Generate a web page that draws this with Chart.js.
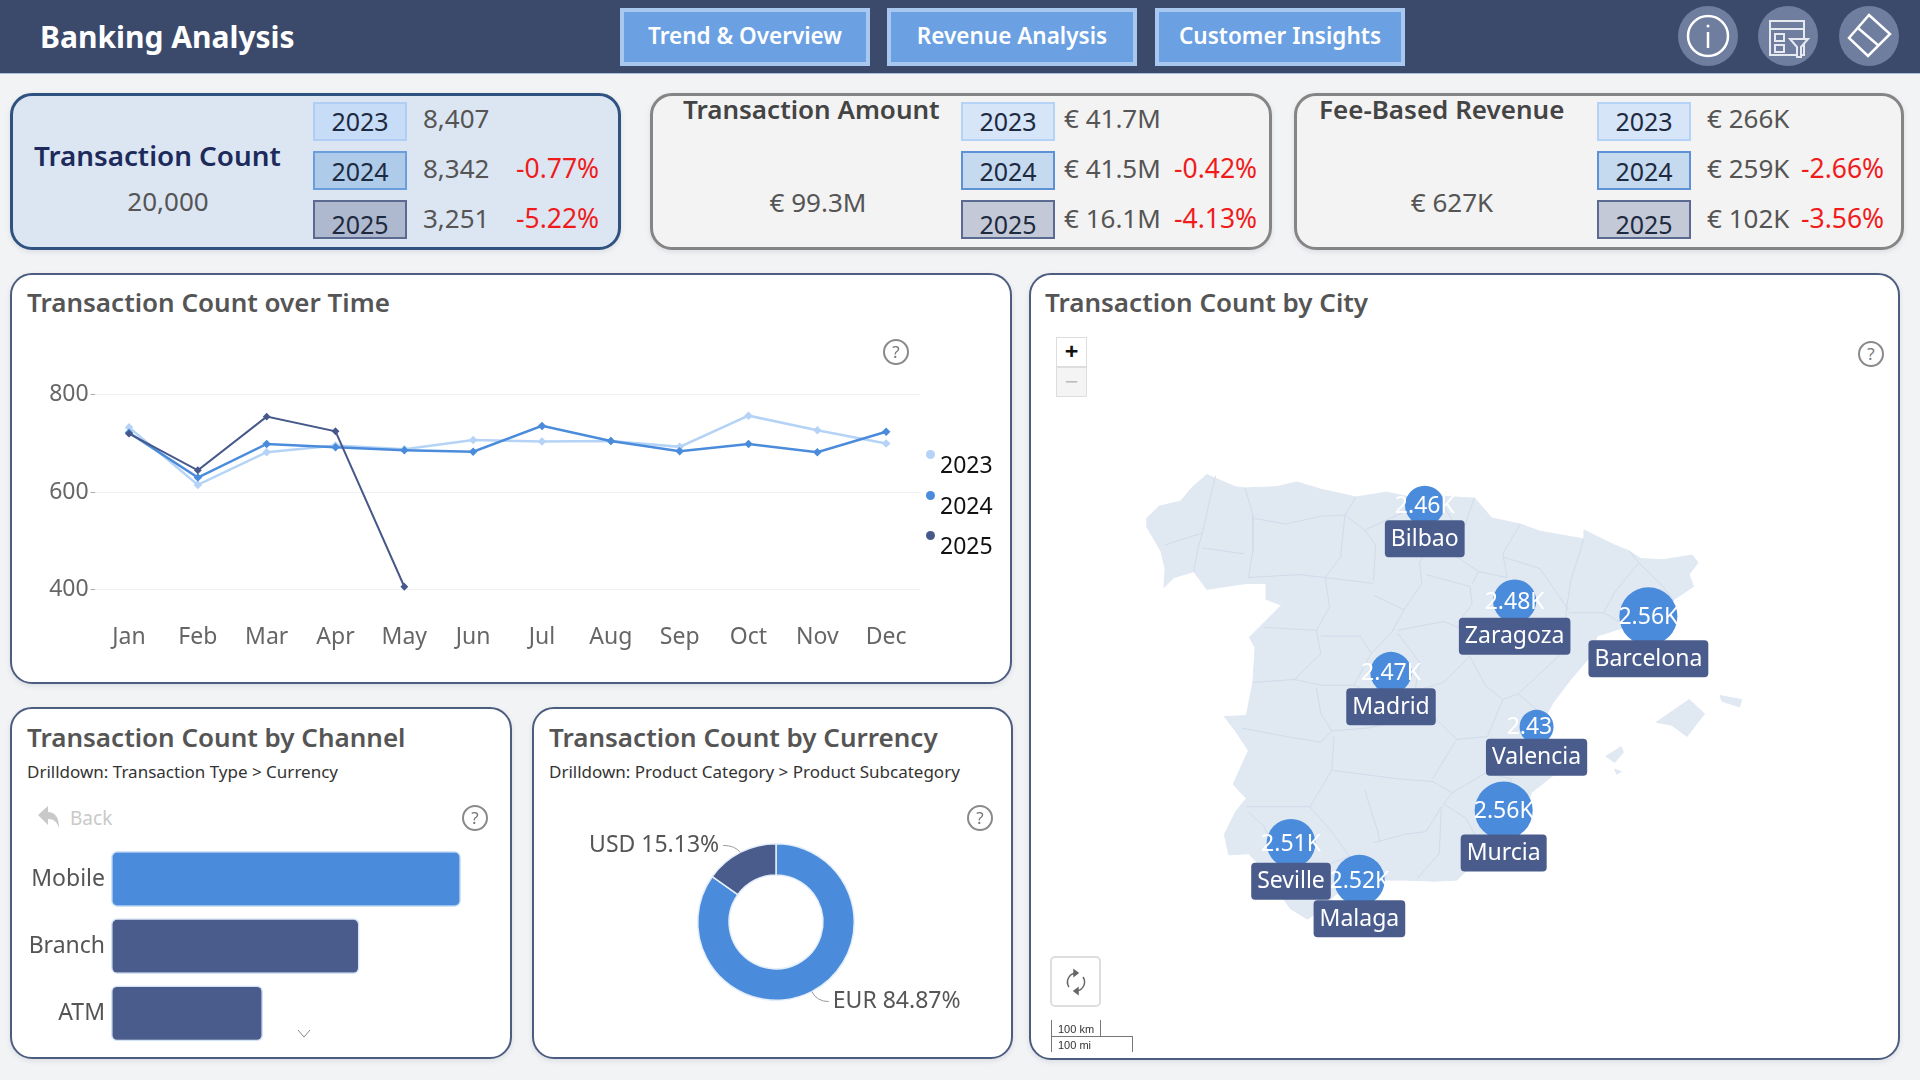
<!DOCTYPE html>
<html>
<head>
<meta charset="utf-8">
<title>Banking Analysis</title>
<script src="https://cdn.jsdelivr.net/npm/chart.js@4/dist/chart.umd.js"></script>
<style>
html, body { margin: 0; padding: 0; width: 1920px; height: 1080px; overflow: hidden; background: #f2f3f5; font-family: "Noto Sans", sans-serif; }
#topbar { position: absolute; left: 0; top: 0; width: 1920px; height: 73px; background: #3b4a6b; border-bottom: 1px solid #a9bfe0; }
.navbtn { position: absolute; top: 8px; width: 242px; height: 50px; background: #6ba1e3; border: 4px solid #a9c8f0; color: #fff; font-size: 22.5px; font-weight: 600; line-height: 48px; text-align: center; }
.iconbtn { position: absolute; top: 6px; width: 60px; height: 60px; border-radius: 50%; background: #6f7d9f; }
.card { position: absolute; box-sizing: border-box; border-radius: 22px; background: #fff; border: 2px solid #4d5d80; box-shadow: 0 2px 5px rgba(90,100,120,.15); }
.kpi { background: #f3f3f3; border: 3px solid #858585; top: 93px; height: 157px; }
.kpi.active { background: #dce6f2; border-color: #2f5280; }
.chip { position: absolute; box-sizing: border-box; width: 94px; height: 39px; border: 2px solid; color: #1e2a40; font-size: 25px; text-align: center; }
.t { position: absolute; white-space: nowrap; transform: translateY(-50%); line-height: 1.2; }
.kpititle { font-size: 26px; font-weight: 600; color: #444; }
.kpival { font-size: 26px; color: #555; }
.pct { font-size: 26.5px; color: #f01c1c; }
.cardtitle { font-size: 26px; font-weight: 600; color: #555; }
.sub { font-size: 17px; color: #333; }
.help { position: absolute; box-sizing: border-box; width: 26px; height: 26px; border: 2px solid #8a8a8a; border-radius: 50%; color: #777; font-size: 17px; line-height: 22px; text-align: center; }
canvas { position: absolute; }
.legdot { position: absolute; width: 9px; height: 9px; border-radius: 50%; }
.zoombtn { position: absolute; box-sizing: border-box; left: 1056px; width: 31px; border: 1px solid #ddd; text-align: center; }
svg { position: absolute; }
</style>
</head>
<body>
<div id="topbar"></div>
<canvas id="lineChart"></canvas>
<canvas id="channelChart"></canvas>
<canvas id="currencyChart"></canvas>
<canvas id="cityMap"></canvas>

<script>
/* chart data */
var months = ["Jan", "Feb", "Mar", "Apr", "May", "Jun", "Jul", "Aug", "Sep", "Oct", "Nov", "Dec"];
var count2023 = [733, 615, 682, 696, 688, 707, 704, 705, 693, 757, 727, 700];
var count2024 = [722, 630, 699, 692, 686, 683, 736, 705, 684, 699, 682, 724];
var count2025 = [720, 645, 755, 725, 406];
var countTicks = [400, 600, 800];

var channels = ["Mobile", "Branch", "ATM"];
var channelCounts = [7000, 4970, 3040];

var currencies = ["EUR", "USD"];
var currencyShares = [84.87, 15.13];

var cities = ["Bilbao", "Zaragoza", "Barcelona", "Madrid", "Valencia", "Murcia", "Seville", "Malaga"];
var cityLon = [-2.93, -0.88, 2.17, -3.70, -0.38, -1.13, -5.98, -4.42];
var cityLat = [43.26, 41.65, 41.39, 40.42, 39.47, 37.98, 37.39, 36.72];
var cityCounts = [2460, 2480, 2560, 2470, 2430, 2560, 2510, 2520];

var kpiYears = ["2023", "2024", "2025"];
var countTotal = "20,000";
var countByYear = ["8,407", "8,342", "3,251"];
var countChange = ["", "-0.77%", "-5.22%"];
var amountTotal = "€ 99.3M";
var amountByYear = ["€ 41.7M", "€ 41.5M", "€ 16.1M"];
var amountChange = ["", "-0.42%", "-4.13%"];
var feeTotal = "€ 627K";
var feeByYear = ["€ 266K", "€ 259K", "€ 102K"];
var feeChange = ["", "-2.66%", "-3.56%"];

/* map shapes, [lon, lat] */
var mainland = [[-9.27,43.05],[-8.98,43.25],[-8.5,43.33],[-8.25,43.55],[-7.9,43.77],[-7.25,43.57],[-7.03,43.55],[-6.3,43.57],[-5.85,43.65],[-5.3,43.53],[-4.5,43.4],[-3.8,43.48],[-3.2,43.39],[-3.0,43.37],[-2.7,43.42],[-1.79,43.38],[-1.4,43.05],[-0.75,42.95],[-0.3,42.83],[0.7,42.7],[0.7,42.85],[1.4,42.6],[1.73,42.5],[2.0,42.37],[2.5,42.35],[3.17,42.43],[3.3,42.3],[3.1,42.1],[3.2,41.9],[2.8,41.7],[2.25,41.43],[1.7,41.22],[1.0,41.05],[0.85,40.7],[0.4,40.3],[0,39.9],[-0.33,39.45],[-0.2,39.0],[0.23,38.75],[-0.1,38.55],[-0.5,38.3],[-0.65,37.95],[-0.72,37.62],[-1.3,37.55],[-1.65,37.35],[-1.9,36.95],[-2.2,36.72],[-2.7,36.7],[-3.4,36.72],[-4.4,36.72],[-4.9,36.5],[-5.35,36.15],[-5.6,36.0],[-6.0,36.2],[-6.3,36.55],[-6.4,36.75],[-6.95,37.2],[-7.4,37.18],[-7.5,37.55],[-7.25,37.95],[-7.0,38.2],[-7.3,38.45],[-7.1,38.8],[-6.95,39.05],[-7.25,39.4],[-7.5,39.65],[-7.0,39.67],[-6.85,40.25],[-6.8,40.85],[-6.93,41.03],[-6.2,41.58],[-6.55,41.68],[-6.55,41.95],[-7.0,41.95],[-7.9,41.85],[-8.2,42.15],[-8.65,42.05],[-8.88,41.88],[-8.85,42.2],[-8.95,42.5],[-9.27,42.9]];
var mallorca = [[2.35,39.55],[3.1,39.95],[3.45,39.7],[3.05,39.3],[2.7,39.5]];
var menorca = [[3.8,40.02],[4.3,39.95],[4.25,39.82],[3.85,39.92]];
var ibiza = [[1.2,38.95],[1.55,39.12],[1.6,39.02],[1.4,38.84]];
var formentera = [[1.4,38.72],[1.55,38.68],[1.45,38.63]];

var provinceLines = [
  [[-7.7,43.75],[-7.85,43.3],[-8.0,42.8],[-8.85,42.6]], [[-8.0,42.55],[-7.05,42.45]], [[-8.0,42.8],[-8.1,42.55],[-8.2,42.15]],
  [[-7.03,43.55],[-6.85,43.1],[-6.85,42.5],[-6.95,42.05]], [[-6.85,43.05],[-6.1,42.95],[-5.3,43.08],[-4.75,43.1],[-4.5,43.4]],
  [[-4.75,43.1],[-4.3,42.85],[-3.85,43.0],[-3.4,43.15],[-3.15,43.38]], [[-4.75,43.1],[-4.85,42.4],[-5.2,42.05]],
  [[-6.95,42.05],[-5.8,42.1],[-5.2,42.05]], [[-6.6,41.2],[-5.4,41.15]], [[-5.2,42.05],[-5.1,41.55],[-5.4,41.15]],
  [[-4.3,42.85],[-4.05,42.6],[-4.1,42.0]], [[-5.2,42.05],[-4.1,41.95]], [[-4.1,41.75],[-3.4,41.5],[-3.0,41.95],[-3.05,42.3],[-2.9,42.5],[-3.1,42.85],[-3.3,43.2]],
  [[-5.4,41.15],[-5.3,40.75],[-5.9,40.3]], [[-6.85,40.25],[-5.9,40.3]], [[-5.3,41.05],[-4.4,41.05],[-4.15,40.75],[-3.7,41.1],[-3.4,41.5]],
  [[-5.9,40.3],[-5.3,40.2],[-4.55,40.2],[-4.15,40.75]], [[-4.55,40.2],[-3.9,40.0],[-3.15,40.1],[-3.05,40.6],[-3.55,41.1]],
  [[-7.1,39.45],[-6.1,39.3],[-5.3,39.2],[-5.05,39.4]], [[-5.4,40.15],[-5.3,39.7],[-5.05,39.4]], [[-5.05,39.4],[-4.2,39.45],[-3.4,39.6],[-3.0,39.85]],
  [[-3.15,40.1],[-2.5,40.25],[-1.9,40.7],[-1.55,40.2]], [[-3.55,41.15],[-2.5,41.3],[-2.0,41.15],[-1.6,40.95]], [[-2.9,42.1],[-1.9,41.9],[-1.85,41.6],[-2.15,41.3]],
  [[-3.05,42.6],[-2.4,42.5],[-1.7,42.15],[-1.85,41.95]], [[-3.1,42.85],[-2.4,42.65],[-2.2,42.9],[-2.55,43.3]], [[-2.4,42.65],[-2.05,42.85],[-1.8,43.38]],
  [[-0.75,42.95],[-1.15,42.45],[-1.05,42.05],[-1.7,42.15]], [[0.7,42.7],[0.4,42.0],[0.3,41.5],[0.25,40.8]], [[-1.15,42.4],[-0.3,42.2],[0.35,41.5]],
  [[-1.6,40.95],[-0.9,41.0],[-0.2,41.1],[0.25,41.0]], [[-1.55,40.2],[-1.15,39.95],[-0.8,40.05],[0.15,40.72]],
  [[1.73,42.5],[1.95,42.3],[2.5,41.9],[2.75,41.65]], [[0.35,41.45],[1.15,41.45],[1.7,41.22]], [[1.95,42.3],[1.4,41.8],[1.15,41.45]],
  [[-0.8,40.05],[-0.35,39.75],[-0.2,39.7]], [[-1.15,39.95],[-1.5,39.3],[-2.2,39.25],[-3.0,39.85]], [[-1.5,39.0],[-0.95,38.95],[-0.95,38.6]],
  [[-0.95,38.9],[-0.35,38.8],[0.1,38.85]], [[-0.95,38.55],[-1.55,38.65],[-2.3,38.3],[-2.5,38.1]], [[-0.95,38.55],[-1.15,38.1],[-0.75,37.85]],
  [[-2.5,38.1],[-2.0,37.85],[-1.65,37.35]], [[-2.2,39.25],[-2.75,38.55]], [[-7.0,38.05],[-6.2,38.05],[-5.55,38.05],[-5.05,38.7],[-3.55,38.55],[-2.75,38.5],[-2.3,38.3]],
  [[-5.05,38.7],[-5.0,39.3]], [[-6.95,37.95],[-6.6,37.7],[-6.3,37.2],[-6.35,36.75]], [[-5.55,38.05],[-5.05,37.6],[-4.65,37.15]],
  [[-6.2,36.9],[-5.6,36.95],[-5.15,37.0],[-4.65,37.15]], [[-5.6,36.95],[-5.35,36.5],[-5.3,36.3]], [[-4.3,38.35],[-4.0,37.6],[-3.95,37.4]],
  [[-4.65,37.15],[-4.1,37.1],[-3.8,36.75]], [[-4.1,37.4],[-3.4,37.55],[-2.9,37.6],[-2.55,38.05]], [[-2.55,38.05],[-2.6,37.2],[-3.1,36.75]]
];

/* small dom helpers */
function el(tag, cls, css, html) {
    var d = document.createElement(tag);
    d.className = cls || "";
    d.style.cssText = css || "";
    if (html !== undefined) d.innerHTML = html;
    document.body.appendChild(d);
    return d;
}

function txt(s, x, y, cls, css) {
    return el("div", "t " + cls, "left:" + x + "px;top:" + y + "px;" + (css || ""), s);
}

function help(cx, cy) {
    el("div", "help", "left:" + (cx - 13) + "px;top:" + (cy - 13) + "px;z-index:3", "?");
}

/* cards go behind the canvases */
function card(x, y, w, h, cls) {
    var c = el("div", "card " + (cls || ""), "left:" + x + "px;width:" + w + "px;" + (cls ? "" : "top:" + y + "px;height:" + h + "px;"));
    document.body.insertBefore(c, document.getElementById("lineChart"));
}

el("div", "", "position:absolute;left:40px;top:36px;transform:translateY(-50%);color:#fff;font-size:30px;font-weight:700;white-space:nowrap", "Banking Analysis");
el("div", "navbtn", "left:620px", "Trend &amp; Overview");
el("div", "navbtn", "left:887px", "Revenue Analysis");
el("div", "navbtn", "left:1155px", "Customer Insights");

el("div", "iconbtn", "left:1678px");
el("div", "iconbtn", "left:1758px");
el("div", "iconbtn", "left:1839px");
document.body.insertAdjacentHTML("beforeend",
  '<svg style="left:1678px;top:6px" width="60" height="60" fill="none" stroke="#fff" stroke-width="2.5"><circle cx="30" cy="30" r="20"/><line x1="30" y1="26" x2="30" y2="42"/><circle cx="30" cy="20" r="1.5" fill="#fff" stroke="none"/></svg>' +
  '<svg style="left:1758px;top:6px" width="60" height="60" fill="none" stroke="#e6e9f0" stroke-width="2"><rect x="12" y="15" width="34" height="34"/><line x1="12" y1="23" x2="46" y2="23"/><rect x="17" y="28" width="9" height="7"/><rect x="17" y="39" width="9" height="7"/><path d="M32 33h18l-7 8v10h-4V41z" fill="#6f7d9f"/></svg>' +
  '<svg style="left:1839px;top:6px" width="60" height="60" fill="none" stroke="#fff" stroke-width="2.5"><path d="M30 9L51 28 29 50 10 32z"/><line x1="19" y1="22" x2="40" y2="40"/></svg>' +
  '<svg style="left:36px;top:804px" width="26" height="26" fill="#c9c9c9"><path d="M2 11L12 2v6c7 0 11 5 11 16-2-6-5-9-11-9v6z"/></svg>' +
  '<svg style="left:296px;top:1029px" width="16" height="10" fill="none" stroke="#888" stroke-width="1"><path d="M2 1l6 7 6-7"/></svg>' +
  '<svg style="left:1062px;top:968px" width="28" height="28" fill="none" stroke="#666" stroke-width="1.5"><path d="M7 19A9 9 0 0 1 14 5"/><path d="M21 9A9 9 0 0 1 14 23"/><path d="M12 2l4 3-4 3z" fill="#666"/><path d="M16 20l-4 3 4 3z" fill="#666"/></svg>');

/* KPI cards */
function kpiRows(chipX, valX, pctX, vals, changes, fills) {
    var tops = [102, 151, 200];
    var chipLine = [34, 36, 44];
    var valY = [119, 169, 219];
    for (var i = 0; i < 3; i++) {
        el("div", "chip", "left:" + chipX + "px;top:" + tops[i] + "px;line-height:" + chipLine[i] + "px;background:" + fills[i][0] + ";border-color:" + fills[i][1], kpiYears[i]);
        txt(vals[i], valX, valY[i], "kpival");
        if (changes[i]) txt(changes[i], pctX, valY[i], "pct");
    }
}
card(10, 93, 611, 157, "kpi active");
card(650, 93, 622, 157, "kpi");
card(1294, 93, 610, 157, "kpi");

var activeFills = [["#c7dcf7", "#b0cdf5"], ["#aecbea", "#6b9fdc"], ["#aeb9cf", "#5a6a90"]];
var plainFills = [["#d6e5f8", "#b5d2f7"], ["#c5d9ef", "#5d93d6"], ["#c3c9d6", "#5a6a90"]];

txt("Transaction Count", 34, 156, "kpititle", "color:#1d2a5c;font-size:27.8px");
txt(countTotal, 168, 202, "kpival", "transform:translate(-50%,-50%)");
kpiRows(313, 423, 516, countByYear, countChange, activeFills);

txt("Transaction Amount", 683, 110, "kpititle");
txt(amountTotal, 818, 203, "kpival", "transform:translate(-50%,-50%)");
kpiRows(961, 1064, 1174, amountByYear, amountChange, plainFills);

txt("Fee-Based Revenue", 1319, 110, "kpititle");
txt(feeTotal, 1452, 203, "kpival", "transform:translate(-50%,-50%)");
kpiRows(1597, 1707, 1801, feeByYear, feeChange, plainFills);

/* visual cards */
card(10, 273, 1002, 411);
card(10, 707, 502, 352);
card(532, 707, 481, 352);
card(1029, 273, 871, 787);

txt("Transaction Count over Time", 27, 303, "cardtitle");
txt("Transaction Count by City", 1045, 303, "cardtitle");
txt("Transaction Count by Channel", 27, 738, "cardtitle");
txt("Drilldown: Transaction Type &gt; Currency", 27, 772, "sub");
txt("Transaction Count by Currency", 549, 738, "cardtitle");
txt("Drilldown: Product Category &gt; Product Subcategory", 549, 772, "sub");
txt("Back", 70, 818, "", "font-size:19px;color:#c9c9c9");
help(896, 352); help(475, 818); help(980, 818); help(1871, 354);

/* line chart legend */
var lineColors = ["#b5d3f6", "#4a8cdb", "#47598a"];
var legendY = [455, 496, 536];
for (var i = 0; i < 3; i++) {
    el("div", "legdot", "left:926px;top:" + (legendY[i] - 5) + "px;background:" + lineColors[i] + ";z-index:3");
    txt(kpiYears[i], 940, legendY[i] + 10, "", "font-size:23px;color:#111;z-index:3");
}

/* map controls */
el("div", "zoombtn", "top:337px;height:30px;background:#fff;font-size:24px;line-height:26px;font-weight:700;color:#111;z-index:3", "+");
el("div", "zoombtn", "top:367px;height:30px;background:#f4f4f4;font-size:24px;line-height:26px;color:#bbb;z-index:3", "−");
el("div", "", "position:absolute;box-sizing:border-box;left:1050px;top:956px;width:51px;height:51px;border:2px solid #dedede;border-radius:5px;z-index:1;background:#fff");
el("div", "", "position:absolute;box-sizing:border-box;left:1051px;top:1020px;width:50px;height:17px;border:1px solid #777;border-top:0;font:11px 'Liberation Sans';color:#333;padding:3px 0 0 6px;z-index:3", "100 km");
el("div", "", "position:absolute;box-sizing:border-box;left:1051px;top:1036px;width:82px;height:16px;border:1px solid #777;border-bottom:0;font:11px 'Liberation Sans';color:#333;padding:2px 0 0 6px;z-index:3", "100 mi");

/* put svgs above the canvases */
document.querySelectorAll("svg").forEach(function(s) { s.style.zIndex = 3; });

Chart.defaults.animation = false;
Chart.defaults.responsive = false;
Chart.defaults.devicePixelRatio = 1;
Chart.defaults.font.family = '"Noto Sans", sans-serif';
Chart.defaults.plugins.legend.display = false;
Chart.defaults.plugins.tooltip.enabled = false;
Chart.defaults.layout.autoPadding = false;

function placeCanvas(id, x, y, w, h) {
    var c = document.getElementById(id);
    c.width = w;
    c.height = h;
    c.style.left = x + "px";
    c.style.top = y + "px";
    c.style.zIndex = 2;
    return c.getContext("2d");
}

/* Transaction Count over Time */
function lineSet(label, values, color, width) {
    return {
        label: label,
        data: values,
        borderColor: color,
        backgroundColor: color,
        borderWidth: width,
        pointRadius: 2.5,
        pointStyle: "rectRot",
        tension: 0
    };
}

new Chart(placeCanvas("lineChart", 14, 332.5, 960, 340), {
    type: "line",
    data: {
        labels: months,
        datasets: [
            lineSet("2025", count2025, lineColors[2], 2),
            lineSet("2024", count2024, lineColors[1], 2.5),
            lineSet("2023", count2023, lineColors[0], 2.5)
        ]
    },
    options: {
        layout: { padding: { top: 42.2, right: 53.4 } },
        scales: {
            x: {
                offset: true,
                grid: { display: false },
                border: { display: false },
                afterFit: function(s) { s.height = 63.8; },
                ticks: { color: "#666", font: { size: 23 }, padding: 6, maxRotation: 0, autoSkip: false }
            },
            y: {
                min: 360,
                max: 840,
                afterBuildTicks: function(s) { s.ticks = countTicks.map(function(v) { return { value: v }; }); },
                afterFit: function(s) { s.width = 80.6; },
                grid: { color: "#eef0f3", tickColor: "#aaa", tickLength: 4 },
                border: { display: false },
                ticks: { color: "#666", font: { size: 23 }, padding: 2 }
            }
        }
    }
});

/* Transaction Count by Channel */
new Chart(placeCanvas("channelChart", 14, 816, 470, 260), {
    type: "bar",
    data: {
        labels: channels,
        datasets: [{
            data: channelCounts,
            backgroundColor: ["#4a8cdb", "#4a5c8c", "#4a5c8c"],
            borderColor: "#d3e3f7",
            borderWidth: 1.5,
            borderRadius: 6,
            borderSkipped: false,
            barPercentage: 0.83,
            categoryPercentage: 1
        }]
    },
    options: {
        indexAxis: "y",
        layout: { padding: { top: 29.4, bottom: 29, right: 3 } },
        scales: {
            x: { display: false, min: 0, max: 7400 },
            y: {
                afterFit: function(s) { s.width = 97; },
                grid: { display: false, tickLength: 0 },
                border: { display: false },
                ticks: { color: "#555", font: { size: 23 }, padding: 6 }
            }
        }
    }
});

/* Transaction Count by Currency, labels with leader lines */
var donutLabels = {
    id: "donutLabels",
    afterDatasetsDraw: function(chart) {
        var ctx = chart.ctx;
        var arcs = chart.getDatasetMeta(0).data;
        ctx.save();
        ctx.font = '23px "Noto Sans"';
        ctx.fillStyle = "#555";
        ctx.strokeStyle = "#9a9a9a";
        ctx.lineWidth = 1;
        ctx.textBaseline = "middle";
        arcs.forEach(function(a, i) {
            var mid = (a.startAngle + a.endAngle) / 2;
            var px = a.x + Math.cos(mid) * a.outerRadius;
            var py = a.y + Math.sin(mid) * a.outerRadius;
            var dir = px > a.x ? 1 : -1;
            var vdir = py > a.y ? 1 : -1;
            var ex = px + dir * 17, ey = py + vdir * (dir > 0 ? 10 : 7);
            ctx.beginPath();
            ctx.moveTo(px, py);
            ctx.quadraticCurveTo(px + dir * 5, ey, ex, ey);
            ctx.stroke();
            ctx.textAlign = dir > 0 ? "left" : "right";
            ctx.fillText(currencies[i] + " " + currencyShares[i].toFixed(2) + "%", ex + dir * 4, ey);
        });
        ctx.restore();
    }
};

new Chart(placeCanvas("currencyChart", 544, 822, 464, 200), {
    type: "doughnut",
    plugins: [donutLabels],
    data: {
        labels: currencies,
        datasets: [{
            data: currencyShares,
            backgroundColor: ["#4a8cdb", "#4a5c8c"],
            borderColor: "#e4eefb",
            borderWidth: 1.5
        }]
    },
    options: {
        cutout: "60%",
        layout: { padding: { top: 21, bottom: 21 } }
    }
});

/* Transaction Count by City, drawn on lon / mercator axes */
function mercator(lat) {
    return Math.log(Math.tan(Math.PI / 4 + lat * Math.PI / 360)) * 180 / Math.PI;
}

function toPoints(shape) {
    return shape.map(function(p) { return { x: p[0], y: mercator(p[1]) }; });
}

function bubbleRadius(v) {
    return 17 + (v - 2430) * 0.0923;
}

function landSet(shape) {
    return {
        type: "scatter",
        data: toPoints(shape.concat([shape[0]])),
        showLine: true,
        fill: "shape",
        backgroundColor: "#e0e8f2",
        borderColor: "#e0e8f2",
        borderWidth: 1,
        pointRadius: 0,
        order: 3
    };
}

function borderSet(line) {
    return {
        type: "scatter",
        data: toPoints(line),
        showLine: true,
        borderColor: "#d0dcea",
        borderWidth: 1,
        pointRadius: 0,
        order: 2
    };
}

var cityLabels = {
    id: "cityLabels",
    afterDatasetsDraw: function(chart) {
        var ctx = chart.ctx;
        var last = chart.data.datasets.length - 1;
        var pts = chart.getDatasetMeta(last).data;
        ctx.save();
        ctx.textAlign = "center";
        ctx.textBaseline = "middle";
        ctx.font = '23px "Noto Sans"';
        ctx.fillStyle = "#fff";
        pts.forEach(function(p, i) {
            ctx.fillText((cityCounts[i] / 1000).toFixed(2) + "K", p.x, p.y + 1);
        });
        pts.forEach(function(p, i) {
            var r = bubbleRadius(cityCounts[i]);
            var w = ctx.measureText(cities[i]).width + 12;
            var top = p.y + r - 5;
            ctx.fillStyle = "#4a5c8c";
            ctx.beginPath();
            ctx.roundRect(p.x - w / 2, top, w, 37, 4);
            ctx.fill();
            ctx.fillStyle = "#fff";
            ctx.fillText(cities[i], p.x, top + 19);
        });
        ctx.restore();
    }
};

var mapSets = [mainland, mallorca, menorca, ibiza, formentera].map(landSet)
    .concat(provinceLines.map(borderSet));
mapSets.push({
    type: "bubble",
    data: cityLon.map(function(lon, i) {
        return { x: lon, y: mercator(cityLat[i]), r: bubbleRadius(cityCounts[i]) };
    }),
    backgroundColor: "#4a8cdb",
    borderWidth: 0,
    order: 1
});

new Chart(placeCanvas("cityMap", 1031, 400, 866, 650), {
    type: "bubble",
    plugins: [cityLabels],
    data: { datasets: mapSets },
    options: {
        layout: { padding: 0 },
        scales: {
            x: { type: "linear", display: false, min: -11.91, max: 7.84 },
            y: { type: "linear", display: false, min: 35.65, max: 50.48 }
        }
    }
});
</script>
</body>
</html>
